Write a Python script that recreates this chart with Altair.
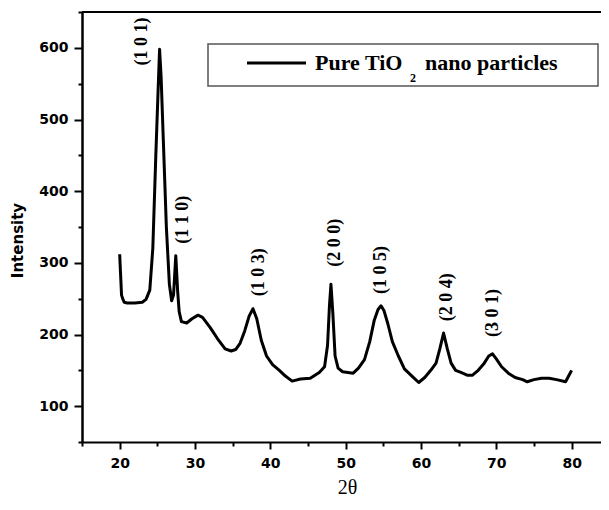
import altair as alt
import pandas as pd

# ---- data ----
TWO_THETA = [20.0, 20.25, 20.4, 20.6, 21.0, 22.0, 23.0, 23.5, 24.0, 24.4, 24.8, 25.1,
             25.3, 25.5, 25.8, 26.2, 26.6, 26.9, 27.15, 27.45, 27.7, 27.9, 28.2, 28.9,
             29.6, 30.4, 31.0, 32.0, 33.0, 34.0, 34.8, 35.4, 36.0, 36.6, 37.2, 37.7,
             38.2, 38.8, 39.5, 40.3, 41.2, 42.0, 42.9, 44.0, 45.3, 46.5, 47.2, 47.6,
             47.85, 48.05, 48.3, 48.6, 49.0, 49.6, 50.3, 51.0, 51.7, 52.5, 53.2, 53.8,
             54.3, 54.7, 55.1, 55.6, 56.2, 57.0, 57.8, 58.8, 59.7, 60.5, 61.3, 62.0,
             62.5, 63.0, 63.5, 64.0, 64.6, 65.3, 66.2, 66.8, 67.6, 68.4, 69.0, 69.5,
             70.0, 70.7, 71.6, 72.5, 73.5, 74.1, 75.0, 76.0, 77.0, 78.0, 79.2, 79.6, 80.0]
INTENSITY = [312, 255, 250, 245, 244, 244, 245, 249, 262, 320, 450, 540,
             598, 560, 470, 350, 270, 247, 255, 310, 260, 232, 218, 216,
             222, 227, 224, 210, 194, 180, 177, 179, 188, 205, 226, 236,
             222, 192, 170, 158, 150, 142, 135, 138, 139, 147, 155, 185,
             240, 270, 230, 170, 153, 148, 147, 146, 153, 165, 190, 220,
             235, 240, 233, 215, 190, 170, 152, 142, 133, 140, 150, 160,
             180, 202, 180, 160, 150, 147, 143, 143, 150, 160, 170, 173,
             166, 155, 146, 140, 137, 134, 137, 139, 139, 137, 134, 142, 150]

PEAK_HKL = ["(1 0 1)", "(1 1 0)", "(1 0 3)", "(2 0 0)", "(1 0 5)", "(2 0 4)", "(3 0 1)"]
PEAK_LABEL_X = [23.0, 28.4, 38.5, 48.6, 54.7, 63.5, 69.6]
PEAK_LABEL_Y = [609, 360, 287, 328, 290, 252, 230]

X_TICKS = list(range(15, 84, 5))
Y_TICKS = list(range(50, 651, 50))

LEGEND_MAIN = ["Pure TiO"]
LEGEND_SUB = ["2"]
LEGEND_REST = ["nano particles"]

df = pd.DataFrame({"two_theta": TWO_THETA, "intensity": INTENSITY})
peaks = pd.DataFrame({"hkl": PEAK_HKL, "lx": PEAK_LABEL_X, "ly": PEAK_LABEL_Y})

W = 519
x_scale = alt.Scale(domain=[15, 83.9], nice=False, zero=False)
y_scale = alt.Scale(domain=[50, 650], nice=False, zero=False)

x_axis = alt.Axis(
    title="2θ", values=X_TICKS,
    labelExpr="datum.value % 10 === 0 ? datum.label : ''",
    tickSize={"condition": {"test": "datum.value % 10 === 0", "value": 7}, "value": 4},
    tickWidth=2, tickColor="black", domainColor="black", domainWidth=2,
    labelFont="DejaVu Sans", labelFontWeight="bold", labelFontSize=14,
    labelColor="black", labelPadding=7, labelOverlap=False, labelFlush=False,
    titleFont="Liberation Serif", titleFontSize=20, titleFontWeight="normal",
    titleColor="black", titleX=265, titleY=45, titleBaseline="middle",
    titleAlign="center", grid=False,
)
y_axis = alt.Axis(
    title="Intensity", values=Y_TICKS,
    labelExpr="datum.value % 100 === 0 ? datum.label : ''",
    tickSize={"condition": {"test": "datum.value % 100 === 0", "value": 8}, "value": 4},
    tickWidth=2, tickColor="black", domainColor="black", domainWidth=2.5,
    labelFont="DejaVu Sans", labelFontWeight="bold", labelFontSize=14,
    labelColor="black", labelPadding=6, labelOverlap=False, labelFlush=False,
    titleFont="DejaVu Sans", titleFontSize=15, titleFontWeight="bold",
    titleColor="black", titleX=-65, titleY=228, titleBaseline="middle",
    titleAlign="center", grid=False,
)

line = alt.Chart(df).mark_line(color="black", strokeWidth=3, strokeJoin="round").encode(
    x=alt.X("two_theta:Q", scale=x_scale, axis=x_axis),
    y=alt.Y("intensity:Q", scale=y_scale, axis=y_axis),
)

labels = alt.Chart(peaks).mark_text(
    angle=270, font="Liberation Serif", fontWeight="bold", fontSize=18,
    color="black", align="center", baseline="middle",
).encode(
    x=alt.X("lx:Q", scale=x_scale, axis=x_axis),
    y=alt.Y("ly:Q", scale=y_scale, axis=y_axis),
    text="hkl:N",
)

one = pd.DataFrame({"k": [0]})
top = alt.Chart(one).mark_rule(color="black", strokeWidth=2).encode(
    x=alt.value(0), x2=alt.value(W), y=alt.value(0),
)
box = alt.Chart(one).mark_rect(fillOpacity=0, stroke="#555555", strokeWidth=1.5).encode(
    x=alt.value(126), x2=alt.value(516), y=alt.value(32), y2=alt.value(74),
)
leg_line = alt.Chart(one).mark_rule(color="black", strokeWidth=3).encode(
    x=alt.value(165), x2=alt.value(224), y=alt.value(51),
)
t1 = alt.Chart(pd.DataFrame({"t": LEGEND_MAIN})).mark_text(
    font="Liberation Serif", fontWeight="bold", fontSize=22, color="black",
    align="left", baseline="alphabetic",
).encode(x=alt.value(233), y=alt.value(58), text="t:N")
t2 = alt.Chart(pd.DataFrame({"t": LEGEND_SUB})).mark_text(
    font="Liberation Serif", fontWeight="bold", fontSize=12, color="black",
    align="left", baseline="alphabetic",
).encode(x=alt.value(328), y=alt.value(70), text="t:N")
t3 = alt.Chart(pd.DataFrame({"t": LEGEND_REST})).mark_text(
    font="Liberation Serif", fontWeight="bold", fontSize=22, color="black",
    align="left", baseline="alphabetic",
).encode(x=alt.value(343), y=alt.value(58), text="t:N")

chart = alt.layer(line, labels, top, box, leg_line, t1, t2, t3).properties(
    width=W, height=430,
    autosize=alt.AutoSizeParams(type="none"),
    padding={"left": 74, "top": 4, "right": 0, "bottom": 60},
).configure_view(stroke=None).configure(background="white")

chart.save("out.html", embed_options={"renderer": "svg", "actions": False})
